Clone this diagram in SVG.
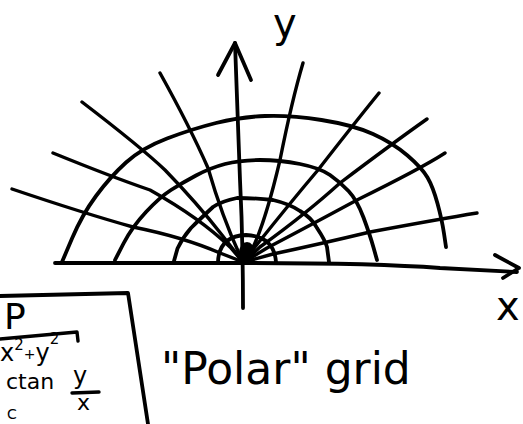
<svg xmlns="http://www.w3.org/2000/svg" width="523" height="424" viewBox="0 0 523 424">
<style>
.ink{fill:none;stroke:#000;stroke-width:3.8;stroke-linecap:round;stroke-linejoin:round}
.thin{fill:none;stroke:#000;stroke-width:3.4;stroke-linecap:round;stroke-linejoin:round}
.t{font-family:"DejaVu Sans","Liberation Sans",sans-serif;fill:#000}
</style>
<rect width="523" height="424" fill="#fff"/>
<g id="connectors">
<g id="arcs">
<path class="ink" d="M62,262 L72,238.5 Q82,215 96,196 Q110,177 126,162.5 Q142,148 167,138.5 Q192,129 216,123 Q240,117 265,116 Q290,115 321.5,120 Q353,125 373,134 Q393,143 407.5,155.5 Q422,168 427.5,177.5 Q433,187 437.5,203.5 Q442,220 444,233.5 L446,247"/>
<path class="ink" d="M115,260 L123.5,243.5 Q132,227 146,212 Q160,197 171,190 Q182,183 196,175.5 Q210,168 225,164 Q240,160 260,160 Q280,160 300,164 Q320,168 330,175 Q340,182 348.5,191 Q357,200 363.5,217.5 Q370,235 373.5,247.5 L377,260"/>
<path class="ink" d="M174,261 L177.5,248.5 Q183,237 191,228 Q200,219 213,207 Q222,201 237,198 Q256,198 273,200 Q290,204 300,211 Q312,218 317,228 Q325,240 327,247 L329,262"/>
<path class="ink" d="M218,262 Q219,236 246,235 Q274,236 276,262"/>
</g>
<g id="radials">
<path class="thin" d="M12,189 Q83,213 133,227 Q183,237 220,253 L243,262"/>
<path class="thin" d="M53,153 Q112,177 150,190 Q200,218 230,247 L243,262"/>
<path class="thin" d="M82,102 Q142,148 165,170 Q197,203 222,235 L243,262"/>
<path class="thin" d="M160,73 Q190,127 208,168 Q223,220 243,262"/>
<path class="thin" d="M303,63 Q292,100 280,160 Q262,237 245,262"/>
<path class="thin" d="M379,93 Q353,125 318,170 Q290,203 255,247 L244,262"/>
<path class="thin" d="M427,119 Q393,143 340,183 Q307,213 260,247 L244,262"/>
<path class="thin" d="M445,153 Q422,168 357,200 Q307,227 267,248 L244,262"/>
<path class="thin" d="M477,213 Q440,219 370,232 Q320,244 273,254 L244,262"/>
</g>
<ellipse cx="247" cy="253" rx="8" ry="11" fill="#000"/>
</g>
<g id="y-axis">
<path class="ink" d="M235,43 Q237,100 240,180 Q243,240 243,308"/>
<path class="ink" d="M218,75 L235,43 L251,80"/>
</g>
<g id="x-axis">
<path class="ink" d="M55,263 L240,263 Q373,263 440,268 L517,272"/>
<path class="ink" d="M495,255 L519,268 L503,278"/>
</g>
<g id="labels">
<text class="t" x="273" y="37" font-size="40">y</text>
<text class="t" x="496" y="320" font-size="40">x</text>
<text class="t" x="161" y="384" font-size="44">"Polar" grid</text>
</g>
<g id="note-box">
<path class="ink" d="M0,296 L128,293 L148,424"/>
<text class="t" x="4" y="329" font-size="36">P</text>
<path class="thin" d="M0,339 L77,332 L78,341"/>
<text class="t" x="0" y="361" font-size="24">x<tspan font-size="15" dy="-11">2</tspan><tspan font-size="14" dy="9">+</tspan><tspan dy="2">y</tspan><tspan font-size="15" dy="-17">2</tspan></text>
<text class="t" x="6" y="389" font-size="22">ctan</text>
<text class="t" x="73" y="384" font-size="24">y</text>
<path class="thin" d="M72,393 L99,392"/>
<text class="t" x="77" y="410" font-size="22">x</text>
<text class="t" x="7" y="419" font-size="14">C</text>
</g>
</svg>
